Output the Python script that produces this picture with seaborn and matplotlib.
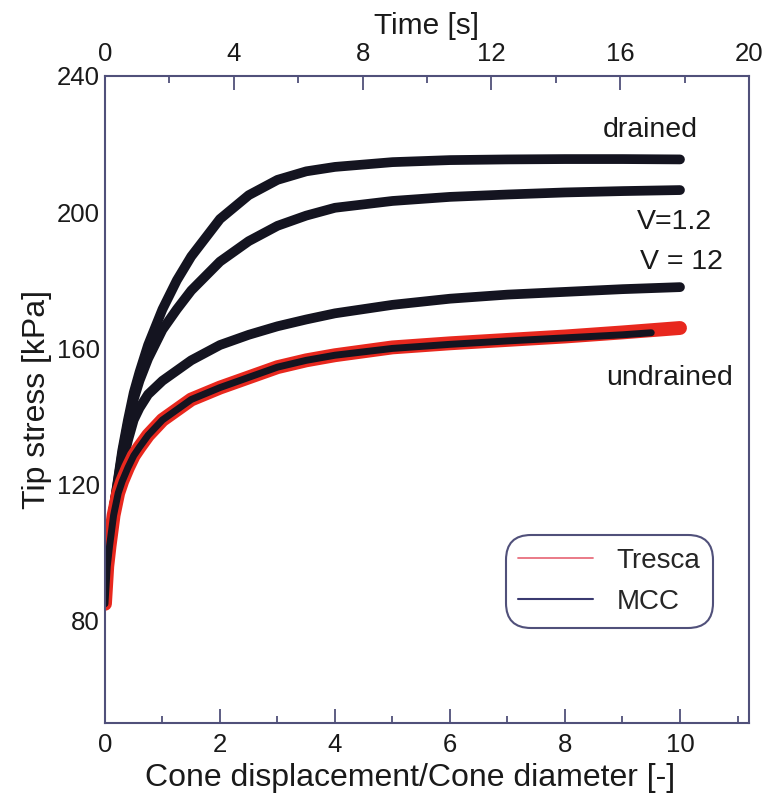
import matplotlib
matplotlib.use('Agg')
import matplotlib.pyplot as plt
import seaborn as sns
from matplotlib.lines import Line2D
from matplotlib.ticker import MultipleLocator

sns.set_style('white')
plt.rcParams['font.family'] = ['Liberation Sans', 'DejaVu Sans']

# Data (cone displacement / cone diameter vs tip stress in kPa)
disp = [0, 0.04, 0.08, 0.15, 0.23, 0.3, 0.4, 0.5, 0.6, 0.75, 1, 1.25, 1.5,
        2, 2.5, 3, 3.5, 4, 5, 6, 7, 8, 9, 10]
drained = [85, 97, 103, 113, 122, 130, 139, 147, 153, 161, 171.5, 180, 187,
           198, 205, 209.5, 212, 213.3, 214.7, 215.3, 215.5, 215.6, 215.6, 215.5]
v_1_2 = [85, 97, 103, 113, 121.5, 129, 138, 145, 150.5, 157, 165.5, 171.5, 177,
         185.5, 191.5, 196, 199, 201.3, 203.3, 204.5, 205.2, 205.8, 206.2, 206.5]
v_12 = [85, 97, 103, 113, 120.5, 126, 133, 139, 142.5, 146.5, 150.5, 153.5, 156.5,
        161, 164, 166.5, 168.5, 170.3, 172.8, 174.6, 175.8, 176.6, 177.4, 178]
tresca = [85, 96, 102, 111, 117.5, 121, 125, 128.5, 131, 134.5, 139, 142, 145,
          148.5, 151.5, 154.5, 156.5, 158, 160.3, 161.5, 162.5, 163.5, 164.7, 166]
mcc_disp = [0, 0.04, 0.08, 0.15, 0.23, 0.3, 0.4, 0.5, 0.6, 0.75, 1, 1.25, 1.5,
            2, 2.5, 3, 3.5, 4, 5, 6, 7, 8, 9, 9.5]
mcc_undrained = [85, 96, 102, 111, 117.5, 121, 125, 128.5, 131, 134.5, 139, 142, 145,
                 148.5, 151.5, 154.5, 156.5, 158, 160, 161.2, 162.2, 163.1, 164, 164.6]

labels = ['drained', 'V=1.2', 'V = 12', 'undrained']
label_x = [9.48, 9.9, 10.03, 9.81]
label_y = [224.1, 197.1, 185.3, 151.2]

spine_col = '#50507a'
curve_col = '#141420'
red_col = '#e8281e'

fig = plt.figure(figsize=(7.69, 7.99), dpi=100)
ax = fig.add_axes([0.1365, 0.0951, 0.8375, 0.8098])

# Draw the traces
for ys in [drained, v_1_2, v_12]:
    sns.lineplot(x=disp, y=ys, ax=ax, color=curve_col, lw=7, sort=False)
sns.lineplot(x=disp, y=tresca, ax=ax, color=red_col, lw=10, sort=False)
sns.lineplot(x=mcc_disp, y=mcc_undrained, ax=ax, color=curve_col, lw=5, sort=False)

ax.set_xlim(0, 11.2)
ax.set_ylim(50, 240)
ax.xaxis.set_major_locator(MultipleLocator(2))
ax.xaxis.set_minor_locator(MultipleLocator(1))
ax.yaxis.set_major_locator(MultipleLocator(40))
ax.yaxis.set_minor_locator(MultipleLocator(20))
ax.tick_params(which='both', direction='in', colors=spine_col, labelcolor='#1a1a1a',
               labelsize=18.5, top=False, right=False, width=1.3)
ax.tick_params(which='major', length=10)
ax.tick_params(which='minor', length=5)
ax.tick_params(axis='x', pad=7)
ax.tick_params(axis='y', pad=3.5)
ax.set_xlabel('Cone displacement/Cone diameter [-]', fontsize=23, color='#1a1a1a')
ax.xaxis.set_label_coords(0.474, -0.062)
ax.set_ylabel('Tip stress [kPa]', fontsize=23, color='#1a1a1a', labelpad=4)
for sp in ax.spines.values():
    sp.set_color(spine_col)
    sp.set_linewidth(1.5)

# Time axis on top
ax2 = ax.twiny()
ax2.set_xlim(0, 20)
ax2.xaxis.set_major_locator(MultipleLocator(4))
ax2.xaxis.set_minor_locator(MultipleLocator(2))
ax2.tick_params(which='both', direction='in', colors=spine_col, labelcolor='#1a1a1a',
                labelsize=18.5, width=1.3, pad=7)
ax2.tick_params(which='major', length=10)
ax2.tick_params(which='minor', length=5)
ax2.set_xlabel('Time [s]', fontsize=21.5, color='#1a1a1a', labelpad=6)
for sp in ax2.spines.values():
    sp.set_visible(False)

for txt, lx, ly in zip(labels, label_x, label_y):
    ax.text(lx, ly, txt, fontsize=20.5, color='#1a1a1a', ha='center', va='center')

handles = [Line2D([0], [0], color='#e8707e', lw=1.3),
           Line2D([0], [0], color='#3a3a70', lw=1.5)]
leg = ax.legend(handles, ['Tresca', 'MCC'], loc='upper left', bbox_to_anchor=(0.622, 0.29),
                borderaxespad=0, fontsize=20, handlelength=2.7, handletextpad=0.85,
                labelspacing=0.55, borderpad=0.45, fancybox=True, framealpha=1)
leg.get_frame().set_boxstyle('round,pad=0,rounding_size=0.9')
leg.get_frame().set_edgecolor(spine_col)
leg.get_frame().set_linewidth(1.5)

fig.savefig('out.png', dpi=100)
